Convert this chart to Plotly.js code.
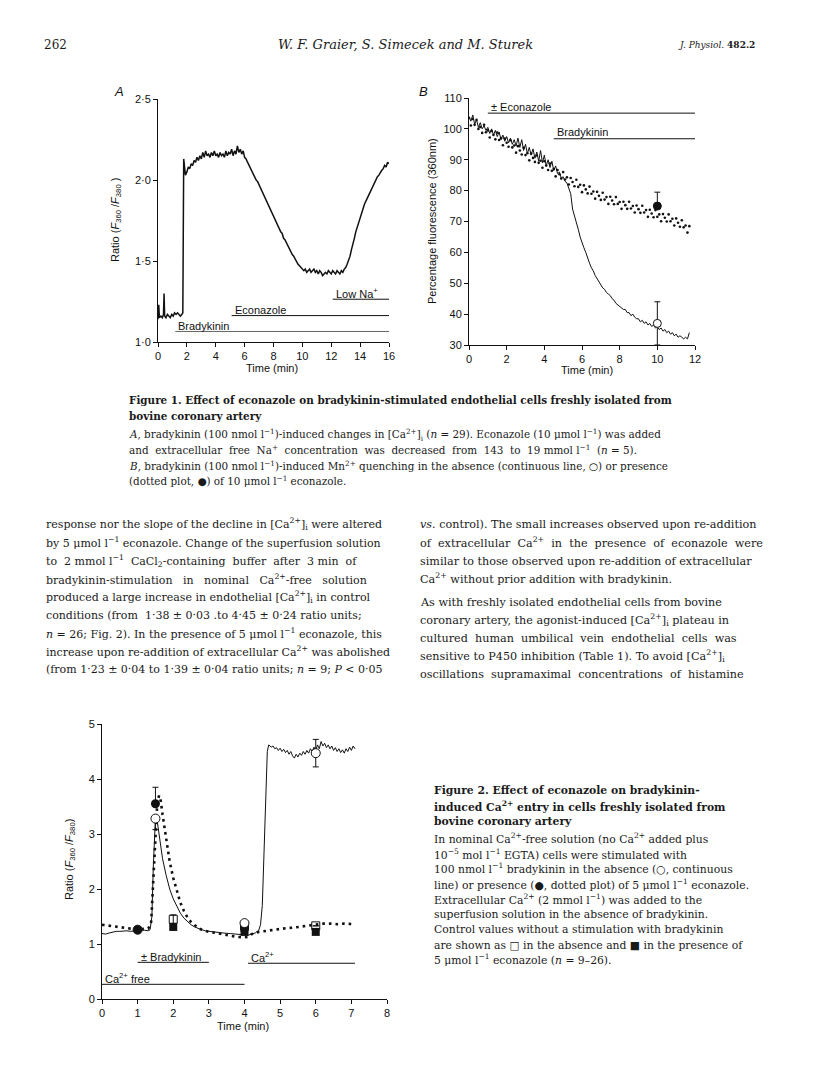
<!DOCTYPE html>
<html><head><meta charset="utf-8">
<script src="https://cdn.plot.ly/plotly-3.0.1.min.js"></script>
<style>html,body{margin:0;padding:0;background:#fff}#chart{width:816px;height:1091px}</style>
</head><body><div id="chart"></div>
<script>
// ---------- Figure 1A : ratio vs time ----------
const timeA = [0.00,0.05,0.10,0.20,0.30,0.38,0.42,0.46,0.55,0.65,0.75,0.85,0.95,1.05,1.15,1.25,1.35,1.45,1.55,1.65,1.72,1.78,1.84,1.90,
2.0,2.1,2.2,2.3,2.4,2.5,2.6,2.7,2.8,2.9,3.0,3.1,3.2,3.3,3.4,3.5,3.6,3.7,3.8,3.9,4.0,4.1,4.2,4.3,4.4,4.5,4.6,4.7,4.8,4.9,
5.0,5.1,5.2,5.3,5.4,5.5,5.6,5.7,5.8,5.9,6.0,6.1,6.2,6.3,6.4,6.5,6.6,6.7,6.8,6.9,7.0,7.1,7.2,7.3,7.4,7.5,7.6,7.7,7.8,7.9,
8.0,8.1,8.2,8.3,8.4,8.5,8.6,8.7,8.8,8.9,9.0,9.1,9.2,9.3,9.4,9.5,9.6,9.7,9.8,9.9,10.0,10.1,10.2,10.3,10.4,10.5,10.6,10.7,10.8,10.9,
11.0,11.1,11.2,11.3,11.4,11.5,11.6,11.7,11.8,11.9,12.0,12.1,12.2,12.3,12.4,12.5,12.6,12.7,12.8,12.9,13.0,13.1,13.2,13.3,13.4,13.5,13.6,13.7,13.8,13.9,
14.0,14.1,14.2,14.3,14.4,14.5,14.6,14.7,14.8,14.9,15.0,15.1,15.2,15.3,15.4,15.5,15.6,15.7,15.8,15.9,16.0];
const ratioA = [1.14,1.23,1.15,1.16,1.15,1.17,1.30,1.16,1.15,1.17,1.16,1.15,1.17,1.16,1.18,1.17,1.18,1.17,1.16,1.17,1.18,2.13,2.06,2.03,
2.05,2.08,2.07,2.10,2.09,2.12,2.11,2.14,2.12,2.15,2.13,2.17,2.14,2.18,2.15,2.16,2.14,2.17,2.15,2.18,2.15,2.16,2.14,2.17,2.15,2.16,2.14,2.18,2.15,2.17,
2.16,2.19,2.15,2.18,2.16,2.21,2.17,2.19,2.16,2.18,2.14,2.13,2.11,2.09,2.08,2.05,2.04,2.02,2.00,1.99,1.97,1.95,1.94,1.91,1.90,1.87,1.86,1.83,1.82,1.79,
1.78,1.76,1.73,1.72,1.70,1.68,1.67,1.64,1.63,1.61,1.60,1.57,1.56,1.54,1.53,1.51,1.50,1.48,1.47,1.46,1.45,1.44,1.45,1.43,1.44,1.45,1.43,1.44,1.45,1.43,
1.44,1.42,1.44,1.43,1.41,1.42,1.43,1.42,1.44,1.43,1.42,1.44,1.43,1.42,1.44,1.43,1.42,1.44,1.43,1.45,1.46,1.48,1.50,1.53,1.57,1.60,1.64,1.68,1.71,1.74,
1.77,1.80,1.82,1.85,1.87,1.89,1.91,1.93,1.95,1.97,1.98,2.00,2.02,2.03,2.05,2.06,2.07,2.09,2.08,2.11,2.10];
const barNamesA = ['Low Na<sup>+</sup>','Econazole','Bradykinin'];
const barStartA = [12.1, 5.1, 1.2];
const barEndA = [16, 16, 16];
const yTicksA = [1.0,1.5,2.0,2.5];
const yTickTextA = ['1·0','1·5','2·0','2·5'];

// ---------- Figure 1B : Mn quenching ----------
const timeB = [0.0,0.1,0.2,0.3,0.4,0.5,0.6,0.7,0.8,0.9,1.0,1.1,1.2,1.3,1.4,1.5,1.6,1.7,1.8,1.9,2.0,2.1,2.2,2.3,2.4,2.5,2.6,2.7,2.8,2.9,
3.0,3.1,3.2,3.3,3.4,3.5,3.6,3.7,3.8,3.9,4.0,4.1,4.2,4.3,4.4,4.5,4.6,4.7,4.8,4.9,5.0,5.1,5.2,5.3,5.4,5.5,5.6,5.7,5.8,5.9,
6.0,6.1,6.2,6.3,6.4,6.5,6.6,6.7,6.8,6.9,7.0,7.1,7.2,7.3,7.4,7.5,7.6,7.7,7.8,7.9,8.0,8.1,8.2,8.3,8.4,8.5,8.6,8.7,8.8,8.9,
9.0,9.1,9.2,9.3,9.4,9.5,9.6,9.7,9.8,9.9,10.0,10.1,10.2,10.3,10.4,10.5,10.6,10.7,10.8,10.9,11.0,11.1,11.2,11.3,11.4,11.5,11.6,11.7];
const controlB = [104,102.5,104.5,101.5,103,100.5,102,100,101,99.5,100.5,98.5,100,98,99.5,97.5,99,96.5,98,96,97.5,95.5,97,95,96.5,94.5,97,94,96.5,93,
95,92,94,91.5,93.5,90.5,92.5,89.5,93,89,91.5,88,90,87.5,89.5,86.5,88,85.5,86,84,84.5,83,82.5,80.5,79,74,72,69.5,67.5,65,
63,61.5,60,58,56.5,55,54,52.5,51.5,50.5,49.5,48.5,48,47,46.5,46,45,44.5,43.5,43,42.5,42,41.5,41.5,40.5,40.5,39.5,40,39,38.5,
38.5,37.5,38,37,37.5,36.5,37,36,36.5,35.5,36,35,35.5,34.5,35,34,34.5,33.5,34,33,33.5,32.5,33,32.5,32,32.5,32,34];
const econB = [103.5,101.1,103.2,101.3,102.9,100,100.6,98.7,101.3,98.9,99.5,97.2,99.3,98,96.6,98.8,96.4,97,94.7,96.9,
95.5,94.2,96.3,94,94.6,92.3,94.4,93,91.7,93.9,91.5,92.1,89.8,92,90.6,89.3,91.4,89,89.7,87.4,
89.5,88.1,86.7,88.8,86.4,87,84.6,86.7,85.3,83.9,86,83.6,84.3,82,84.1,82.8,81.4,83.5,81.2,81.9,
79.5,81.7,80.4,79.1,81.3,79,79.7,77.4,79.6,78.3,77,79.3,77.1,77.9,75.7,78,76.8,75.6,77.9,75.7,
76.3,74.1,76.4,75.3,74.1,76.4,74.2,75,72.9,75.2,74,72.8,75.1,72.9,73.7,71.5,73.8,72.6,71.4,73.7,
71.5,72.3,70.1,72.4,71.2,70,72.3,70.1,70.9,68.7,71,69.6,68.3,70.4,68.1,68.7,66.4,68.5];
const meanTimeB = [10, 10];
const meanB = [37, 75];          // open (control), filled (econazole)
const errUpB = [7, 4.5];
const errDownB = [7, 0];
const barNamesB = ['± Econazole','Bradykinin'];
const barStartB = [1.0, 4.5];
const barEndB = [12, 12];

// ---------- Figure 2 : Ca entry ----------
const time2c = [0.0,0.1,0.2,0.3,0.4,0.5,0.6,0.7,0.8,0.9,1.0,1.1,1.2,1.3,1.35,1.40,1.44,1.47,1.50,1.54,1.58,1.62,1.7,1.8,1.9,2.0,2.1,2.2,2.3,2.4,2.5,2.6,2.7,2.8,2.9,
3.0,3.2,3.4,3.6,3.8,4.0,4.1,4.2,4.3,4.4,4.45,4.5,4.55,4.6,4.64,4.68,4.75,4.8,4.85,4.9,4.95,5.0,5.05,5.1,5.15,5.2,5.25,5.3,5.35,5.4,5.45,5.5,
5.55,5.6,5.65,5.7,5.75,5.8,5.85,5.9,5.95,6.0,6.05,6.1,6.15,6.2,6.25,6.3,6.35,6.4,6.45,6.5,6.55,6.6,6.65,6.7,6.75,6.8,6.85,6.9,6.95,7.0,7.05,7.1];
const ratio2c = [1.19,1.18,1.2,1.22,1.23,1.23,1.24,1.24,1.23,1.24,1.24,1.25,1.25,1.24,1.26,1.5,2.4,3.0,3.3,3.28,3.1,2.85,2.55,2.25,2.0,1.82,1.68,1.56,1.47,1.4,1.35,1.31,1.28,1.26,1.24,
1.23,1.21,1.2,1.19,1.18,1.17,1.16,1.18,1.2,1.25,1.35,1.7,2.8,4.0,4.5,4.62,4.58,4.6,4.55,4.57,4.52,4.56,4.5,4.54,4.48,4.52,4.45,4.5,4.42,4.38,4.45,4.4,
4.47,4.43,4.5,4.45,4.52,4.47,4.55,4.5,4.58,4.52,4.62,4.55,4.68,4.6,4.65,4.57,4.62,4.55,4.6,4.52,4.57,4.5,4.55,4.48,4.53,4.47,4.55,4.5,4.58,4.52,4.6,4.55];
const time2e = [0.0,0.2,0.4,0.6,0.8,1.0,1.2,1.3,1.38,1.44,1.5,1.55,1.6,1.65,1.7,1.8,1.9,2.0,2.1,2.2,2.3,2.4,2.5,2.6,2.7,2.8,3.0,3.2,3.4,3.6,3.8,4.0,4.1,4.2,4.4,4.6,4.8,
5.0,5.2,5.4,5.6,5.8,6.0,6.2,6.4,6.6,6.8,7.0,7.1];
const ratio2e = [1.35,1.33,1.31,1.3,1.28,1.27,1.27,1.28,1.4,2.2,3.0,3.55,3.7,3.6,3.35,2.9,2.5,2.2,1.95,1.75,1.6,1.48,1.4,1.34,1.29,1.26,1.22,1.2,1.17,1.15,1.13,1.12,1.13,1.18,1.22,1.24,1.26,
1.27,1.29,1.3,1.32,1.34,1.36,1.37,1.37,1.36,1.37,1.36,1.36];
const openCircX = [1, 1.5, 4, 6];
const openCircY = [1.26, 3.28, 1.38, 4.47];
const openCircUp = [0, 0, 0, 0.25];
const openCircDn = [0, 0.2, 0, 0.25];
const fillCircX = [1, 1.5];
const fillCircY = [1.26, 3.55];
const fillCircUp = [0.05, 0.3];
const fillCircDn = [0.05, 0];
const openSqX = [2, 4, 6];
const openSqY = [1.45, 1.33, 1.33];
const openSqErr = [0.08, 0, 0];
const fillSqX = [2, 4, 4, 6];
const fillSqY = [1.31, 1.3, 1.22, 1.22];
const barNames2 = ['± Bradykinin','Ca<sup>2+</sup>','Ca<sup>2+</sup> free'];
const barStart2 = [1.0, 4.1, 0.0];
const barEnd2 = [3.0, 7.1, 4.0];

// ---------- page text ----------
const headerTexts = ['262','<i>W. F. Graier, S. Simecek and M. Sturek</i>','<i>J. Physiol.</i> <b>482.2</b>'];
const fig1Caption = [
 '<b>Figure 1. Effect of econazole on bradykinin-stimulated endothelial cells freshly isolated from</b>',
 '<b>bovine coronary artery</b>',
 '<i>A</i>, bradykinin (100 nmol l<sup>−1</sup>)-induced changes in [Ca<sup>2+</sup>]<sub>i</sub> (<i>n</i> = 29). Econazole (10 μmol l<sup>−1</sup>) was added',
 'and  extracellular  free  Na<sup>+</sup>  concentration  was  decreased  from  143  to  19 mmol l<sup>−1</sup>  (<i>n</i> = 5).',
 '<i>B</i>, bradykinin (100 nmol l<sup>−1</sup>)-induced Mn<sup>2+</sup> quenching in the absence (continuous line, ○) or presence',
 '(dotted plot, ●) of 10 μmol l<sup>−1</sup> econazole.'];
const leftCol = [
 'response nor the slope of the decline in [Ca<sup>2+</sup>]<sub>i</sub> were altered',
 'by 5 μmol l<sup>−1</sup> econazole. Change of the superfusion solution',
 'to  2 mmol l<sup>−1</sup>  CaCl<sub>2</sub>-containing  buffer  after  3 min  of',
 'bradykinin-stimulation   in   nominal   Ca<sup>2+</sup>-free   solution',
 'produced a large increase in endothelial [Ca<sup>2+</sup>]<sub>i</sub> in control',
 'conditions (from  1·38 ± 0·03 .to 4·45 ± 0·24 ratio units;',
 '<i>n</i> = 26; Fig. 2). In the presence of 5 μmol l<sup>−1</sup> econazole, this',
 'increase upon re-addition of extracellular Ca<sup>2+</sup> was abolished',
 '(from 1·23 ± 0·04 to 1·39 ± 0·04 ratio units; <i>n</i> = 9; <i>P</i> < 0·05'];
const rightCol = [
 '<i>vs.</i> control). The small increases observed upon re-addition',
 'of  extracellular  Ca<sup>2+</sup>  in  the  presence  of  econazole  were',
 'similar to those observed upon re-addition of extracellular',
 'Ca<sup>2+</sup> without prior addition with bradykinin.',
 'As with freshly isolated endothelial cells from bovine',
 'coronary artery, the agonist-induced [Ca<sup>2+</sup>]<sub>i</sub> plateau in',
 'cultured  human  umbilical  vein  endothelial  cells  was',
 'sensitive to P450 inhibition (Table 1). To avoid [Ca<sup>2+</sup>]<sub>i</sub>',
 'oscillations  supramaximal  concentrations  of  histamine'];
const fig2Caption = [
 '<b>Figure 2. Effect of econazole on bradykinin-</b>',
 '<b>induced Ca<sup>2+</sup> entry in cells freshly isolated from</b>',
 '<b>bovine coronary artery</b>',
 'In nominal Ca<sup>2+</sup>-free solution (no Ca<sup>2+</sup> added plus',
 '10<sup>−5</sup> mol l<sup>−1</sup> EGTA) cells were stimulated with',
 '100 nmol l<sup>−1</sup> bradykinin in the absence (○, continuous',
 'line) or presence (●, dotted plot) of 5 μmol l<sup>−1</sup> econazole.',
 'Extracellular Ca<sup>2+</sup> (2 mmol l<sup>−1</sup>) was added to the',
 'superfusion solution in the absence of bradykinin.',
 'Control values without a stimulation with bradykinin',
 'are shown as □ in the absence and ■ in the presence of',
 '5 μmol l<sup>−1</sup> econazole (<i>n</i> = 9–26).'];

// ---------- build ----------
const W = 816, H = 1091;
const px = x => x / W, py = y => 1 - y / H;
const SANS = 'Liberation Sans, Arial, sans-serif';
const SERIF = 'DejaVu Serif, serif';
const ann = [];
function T(x, y, text, size, opts) {
  ann.push(Object.assign({xref:'paper', yref:'paper', x:px(x), y:py(y), text:text, showarrow:false,
    xanchor:'left', yanchor:'middle', font:{family:SERIF, size:size, color:'#1a1a1a'}}, opts||{}));
}
// header
T(42, 45, headerTexts[0], 12);
T(405, 45, headerTexts[1], 13, {xanchor:'center'});
T(757, 45, headerTexts[2], 9, {xanchor:'right'});
// captions and body
const capY1 = [400, 416, 435, 450, 465, 480];
fig1Caption.forEach((t,i) => T(127, capY1[i], t, 10.4));
const colY = [524, 542, 561, 579, 597, 615, 633, 651, 669];
leftCol.forEach((t,i) => T(44, colY[i], t, 11));
const colYR = [524, 542, 561, 578, 602, 620, 638, 656, 674];
rightCol.forEach((t,i) => T(418, colYR[i], t, 11.2));
const capY2 = [790, 806, 821, 838, 854, 869, 884, 899, 914, 929, 945, 959];
fig2Caption.forEach((t,i) => T(432, capY2[i], t, 10.8));
// panel letters & axis titles
const sansF = (s) => ({family:SANS, size:s, color:'#111'});
T(112, 92, '<i>A</i>', 13, {font:sansF(13)});
T(417, 92, '<i>B</i>', 13, {font:sansF(13)});
T(116, 220, 'Ratio (<i>F</i><sub>360</sub> /<i>F</i><sub>380</sub> )', 11, {xanchor:'center', textangle:-90, font:sansF(11)});
T(272, 368, 'Time (min)', 11, {xanchor:'center', font:sansF(11)});
T(432, 221, 'Percentage fluorescence (360nm)', 11, {xanchor:'center', textangle:-90, font:sansF(11)});
T(587, 370, 'Time (min)', 11, {xanchor:'center', font:sansF(11)});
T(70, 860, 'Ratio (<i>F</i><sub>360</sub> /<i>F</i><sub>380</sub>)', 11, {xanchor:'center', textangle:-90, font:sansF(11)});
T(243, 1026, 'Time (min)', 11, {xanchor:'center', font:sansF(11)});

// protocol bars
const shapes = [];
function bar(xa, ya, x0, x1, yv, ylab, name, color) {
  shapes.push({type:'line', xref:xa, yref:ya, x0:x0, x1:x1, y0:yv, y1:yv, line:{color:color||'#111', width:1}});
  ann.push({xref:xa, yref:ya, x:x0, y:ylab, text:name, showarrow:false, xanchor:'left', yanchor:'middle', xshift:1,
    font:{family:SANS, size:11, color:'#111'}});
}
const yLevelsA = [[1.264,1.30],[1.163,1.20],[1.065,1.098]];
barNamesA.forEach((n,i)=>bar('x','y',barStartA[i],barEndA[i],yLevelsA[i][0],yLevelsA[i][1],n, i===2?'#666':'#111'));
const yLevelsB = [[105.1,107.0],[96.8,99.0]];
barNamesB.forEach((n,i)=>bar('x2','y2',barStartB[i],barEndB[i],yLevelsB[i][0],yLevelsB[i][1],n));
const yLevels2 = [[0.667,0.77],[0.65,0.76],[0.267,0.38]];
barNames2.forEach((n,i)=>bar('x3','y3',barStart2[i],barEnd2[i],yLevels2[i][0],yLevels2[i][1],n));

const blk = '#111';
const traces = [
  {x:timeA, y:ratioA, xaxis:'x', yaxis:'y', mode:'lines', line:{color:blk, width:1.5}},
  {x:timeB, y:controlB, xaxis:'x2', yaxis:'y2', mode:'lines', line:{color:blk, width:1}},
  {x:timeB, y:econB, xaxis:'x2', yaxis:'y2', mode:'markers', marker:{color:blk, size:2.6}},
  {x:meanTimeB, y:meanB, xaxis:'x2', yaxis:'y2', mode:'markers',
   marker:{color:['#fff',blk], size:8, line:{color:blk, width:1}},
   error_y:{type:'data', symmetric:false, array:errUpB, arrayminus:errDownB, color:blk, thickness:1, width:3}},
  {x:time2c, y:ratio2c, xaxis:'x3', yaxis:'y3', mode:'lines', line:{color:blk, width:1}},
  {x:time2e, y:ratio2e, xaxis:'x3', yaxis:'y3', mode:'lines', line:{color:blk, width:2.6, dash:'2.6px,4px'}},
  {x:openSqX, y:openSqY, xaxis:'x3', yaxis:'y3', mode:'markers', marker:{symbol:'square-open', color:blk, size:8, line:{width:1}},
   error_y:{type:'data', array:openSqErr, color:blk, thickness:1, width:3}},
  {x:fillSqX, y:fillSqY, xaxis:'x3', yaxis:'y3', mode:'markers', marker:{symbol:'square', color:blk, size:8}},
  {x:openCircX, y:openCircY, xaxis:'x3', yaxis:'y3', mode:'markers', marker:{symbol:'circle', color:'#fff', size:9, line:{color:blk, width:1}},
   error_y:{type:'data', symmetric:false, array:openCircUp, arrayminus:openCircDn, color:blk, thickness:1, width:3}},
  {x:fillCircX, y:fillCircY, xaxis:'x3', yaxis:'y3', mode:'markers', marker:{symbol:'circle', color:blk, size:9},
   error_y:{type:'data', symmetric:false, array:fillCircUp, arrayminus:fillCircDn, color:blk, thickness:1, width:3}}
];

const axBase = {showline:true, linecolor:blk, linewidth:1, ticks:'outside', ticklen:4, tickwidth:1, tickcolor:blk,
  showgrid:false, zeroline:false, tickfont:{family:SANS, size:11, color:blk}, fixedrange:true};
const layout = {
  width:W, height:H, margin:{l:0, r:0, t:0, b:0}, paper_bgcolor:'#fff', plot_bgcolor:'rgba(0,0,0,0)',
  showlegend:false,
  xaxis: Object.assign({}, axBase, {domain:[px(158), px(389)], range:[0,16], tickvals:[0,2,4,6,8,10,12,14,16], anchor:'y'}),
  yaxis: Object.assign({}, axBase, {domain:[py(342), py(99)], range:[1,2.5], tickvals:yTicksA, ticktext:yTickTextA, anchor:'x'}),
  xaxis2: Object.assign({}, axBase, {domain:[px(469), px(695)], range:[0,12], tickvals:[0,2,4,6,8,10,12], anchor:'y2'}),
  yaxis2: Object.assign({}, axBase, {domain:[py(345), py(98)], range:[30,110], tickvals:[30,40,50,60,70,80,90,100,110], anchor:'x2'}),
  xaxis3: Object.assign({}, axBase, {domain:[px(102), px(387)], range:[0,8], tickvals:[0,1,2,3,4,5,6,7,8], anchor:'y3'}),
  yaxis3: Object.assign({}, axBase, {domain:[py(999), py(724)], range:[0,5], tickvals:[0,1,2,3,4,5], anchor:'x3'}),
  annotations: ann, shapes: shapes
};
Plotly.newPlot('chart', traces, layout, {staticPlot:true, displayModeBar:false});
</script></body></html>
